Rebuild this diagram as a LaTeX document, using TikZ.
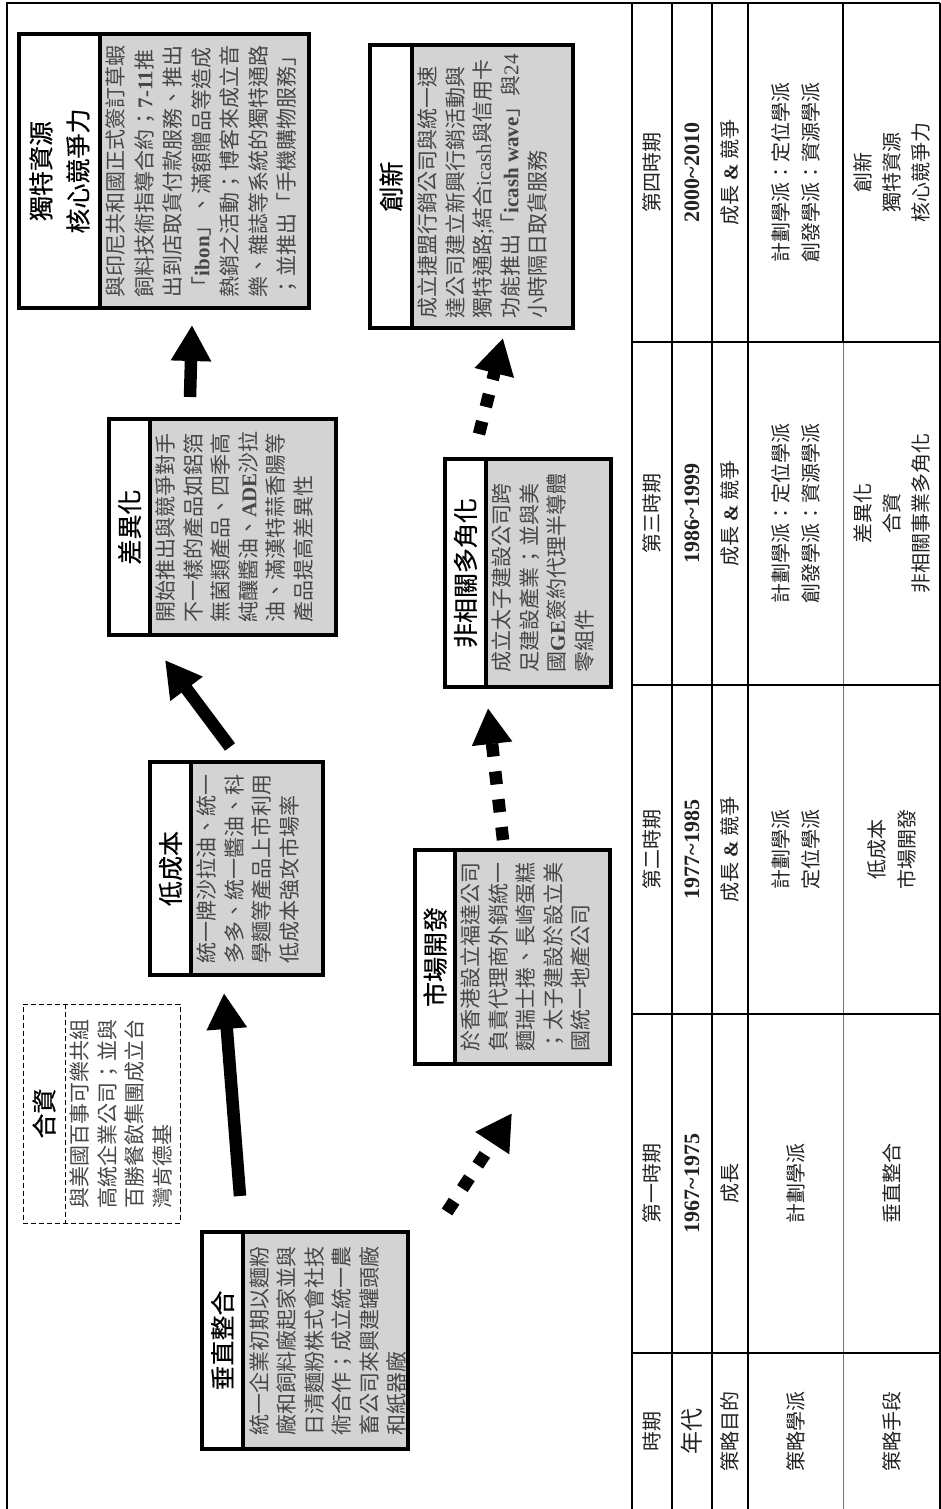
\documentclass[tikz,border=0pt]{standalone}
\usepackage{fontspec}
\setmainfont{Liberation Serif}
\newfontfamily\cjk{Noto Sans CJK TC}
\newfontfamily\cjkhd[FakeBold=0.4]{Noto Sans CJK TC}
\newfontfamily\lat{Liberation Serif}
\usetikzlibrary{arrows.meta,fit}
\definecolor{boxgray}{RGB}{211,211,211}
\definecolor{bodytxt}{RGB}{70,70,70}
\definecolor{tabtxt}{RGB}{35,35,35}
\newcommand{\LB}[1]{{\lat\bfseries #1}}
\newcommand{\LR}[1]{{\lat #1}}
\begin{document}
\begin{tikzpicture}[x=1pt,y=-1pt,
  frame/.style={line width=2.5pt},
  thinline/.style={line width=1pt, draw=black!55},
  boxbody/.style={draw, line width=4pt, fill=boxgray, inner sep=0pt},
  boxhead/.style={draw, line width=4pt, fill=white, inner sep=0pt},
  dashbody/.style={draw, line width=1pt, dash pattern=on 5pt off 3pt, inner sep=0pt},
  htext/.style={rotate=90, font=\cjkhd\fontsize{25}{37}\selectfont, align=center, inner sep=0pt},
  btext/.style={rotate=90, font=\cjk\fontsize{21}{27.5}\selectfont, align=left, inner sep=0pt, text=bodytxt, anchor=north},
  ttext/.style={rotate=90, font=\cjk\fontsize{20}{30}\selectfont, align=center, inner sep=0pt, text=tabtxt},
  ytext/.style={rotate=90, font=\lat\bfseries\fontsize{22}{26}\selectfont, inner sep=0pt, text=tabtxt},
  solidarrow/.style={line width=12.5pt, -{Triangle[length=36pt,width=38pt]}},
  dotarrow/.style={line width=12.5pt, dash pattern=on 13pt off 15pt, -{Triangle[length=36pt,width=38pt]}},
]
\useasboundingbox (0,0) rectangle (941,1509);
\fill[white] (0,0) rectangle (941,1509);

% outer frame
\draw[frame] (7,1509) -- (7,3) -- (940,3);

% table lines
\foreach \xx in {632,672,712,748,940}{\draw[frame] (\xx,3) -- (\xx,1509);}
\draw[frame] (843,3) -- (843,342);
\draw[thinline] (843,342) -- (843,1509);
\foreach \yy in {342,685,1014,1353}{\draw[frame] (632,\yy) -- (940,\yy);}

% table texts: header column
\node[ttext] (h1) at (652,1431) {時期};
\node[ttext, font=\cjk\fontsize{23}{28}\selectfont] (h2) at (692,1431) {年代};
\node[ttext] (h3) at (730,1431) {策略目的};
\node[ttext] (h4) at (795.5,1431) {策略學派};
\node[ttext] (h5) at (891.5,1431) {策略手段};
% period 1
\node[ttext] (p1a) at (652,1183.5) {第一時期};
\node[ytext] (p1b) at (692,1183.5) {1967\textasciitilde1975};
\node[ttext] (p1c) at (730,1183.5) {成長};
\node[ttext] (p1d) at (795.5,1183.5) {計劃學派};
\node[ttext] (p1e) at (891.5,1183.5) {垂直整合};
% period 2
\node[ttext] (p2a) at (652,849.5) {第二時期};
\node[ytext] (p2b) at (692,849.5) {1977\textasciitilde1985};
\node[ttext] (p2c) at (730,849.5) {成長 \LB{\&} 競爭};
\node[ttext] (p2d) at (795.5,849.5) {計劃學派\\定位學派};
\node[ttext] (p2e) at (891.5,849.5) {低成本\\市場開發};
% period 3
\node[ttext] (p3a) at (652,513.5) {第三時期};
\node[ytext] (p3b) at (692,513.5) {1986\textasciitilde1999};
\node[ttext] (p3c) at (730,513.5) {成長 \LB{\&} 競爭};
\node[ttext] (p3d) at (795.5,513.5) {計劃學派：定位學派\\創發學派：資源學派};
\node[ttext, font=\cjk\fontsize{20}{29}\selectfont] (p3e) at (891.5,513.5) {差異化\\合資\\非相關事業多角化};
% period 4
\node[ttext] (p4a) at (652,172.5) {第四時期};
\node[ytext] (p4b) at (692,172.5) {2000\textasciitilde2010};
\node[ttext] (p4c) at (730,172.5) {成長 \LB{\&} 競爭};
\node[ttext] (p4d) at (795.5,172.5) {計劃學派：定位學派\\創發學派：資源學派};
\node[ttext, font=\cjk\fontsize{20}{29}\selectfont] (p4e) at (891.5,172.5) {創新\\獨特資源\\核心競爭力};

% ---- boxes ----
% 垂直整合
\node[boxbody, fit={(202,1232)(408,1449)}] (vi) {};
\node[boxhead, fit={(202,1232)(243,1449)}] (vih) {};
\node[htext] (vit) at (vih.center) {垂直整合};
\node[btext] (vib) at (249,1340.5) {統一企業初期以麵粉\\廠和飼料廠起家並與\\日清麵粉株式會社技\\術合作；成立統一農\\畜公司來興建罐頭廠\\和紙器廠};

% 合資 (dashed)
\node[dashbody, fit={(23,1004)(180,1223)}] (jv) {};
\draw[line width=1pt, dash pattern=on 5pt off 3pt] (65,1004) -- (65,1223);
\coordinate (jvh) at (44,1113.5);
\node[htext] (jvt) at (jvh) {合資};
\node[btext] (jvb) at (70,1113.5) {與美國百事可樂共組\\高統企業公司；並與\\百勝餐飲集團成立台\\灣肯德基};

% 低成本
\node[boxbody, fit={(150,762)(323,975)}] (lc) {};
\node[boxhead, fit={(150,762)(191,975)}] (lch) {};
\node[htext] (lct) at (lch.center) {低成本};
\node[btext] (lcb) at (197,868.5) {統一牌沙拉油、統一\\多多、統一醬油、科\\學麵等產品上市利用\\低成本強攻市場率};

% 市場開發
\node[boxbody, fit={(415,850)(610,1064)}] (md) {};
\node[boxhead, fit={(415,850)(455,1064)}] (mdh) {};
\node[htext] (mdt) at (mdh.center) {市場開發};
\node[btext] (mdb) at (461,957) {於香港設立福達公司\\負責代理商外銷統一\\麵瑞士捲、長崎蛋糕\\；太子建設於設立美\\國統一地產公司};

% 差異化
\node[boxbody, fit={(109,419)(336,635)}] (df) {};
\node[boxhead, fit={(109,419)(150,635)}] (dfh) {};
\node[htext] (dft) at (dfh.center) {差異化};
\node[btext] (dfb) at (156,527) {開始推出與競爭對手\\不一樣的產品如鋁箔\\無菌類產品、四季高\\純釀醬油、\LB{ADE}沙拉\\油、滿漢特蒜香腸等\\產品提高差異性};

% 非相關多角化
\node[boxbody, fit={(445,459)(611,687)}] (ud) {};
\node[boxhead, fit={(445,459)(486,687)}] (udh) {};
\node[htext] (udt) at (udh.center) {非相關多角化};
\node[btext] (udb) at (492,573) {成立太子建設公司跨\\足建設產業；並與美\\國\LB{GE}簽約代理半導體\\零組件};

% 獨特資源 核心競爭力
\node[boxbody, fit={(19,34)(309,308)}] (ur) {};
\node[boxhead, fit={(19,34)(100,308)}] (urh) {};
\node[htext] (urt) at (urh.center) {獨特資源\\核心競爭力};
\node[btext, font=\cjk\fontsize{21}{28.5}\selectfont] (urb) at (106,171) {與印尼共和國正式簽訂草蝦\\飼料技術指導合約；\LB{7-11}推\\出到店取貨付款服務、推出\\「\LB{ibon}」、滿額贈品等造成\\熱銷之活動；博客來成立音\\樂、雜誌等系統的獨特通路\\；並推出「手機購物服務」};

% 創新
\node[boxbody, fit={(370,45)(573,328)}] (in) {};
\node[boxhead, fit={(370,45)(412,328)}] (inh) {};
\node[htext] (int) at (inh.center) {創新};
\node[btext] (inb) at (418,186.5) {成立捷盟行銷公司與統一速\\達公司建立新興行銷活動與\\獨特通路\LR{;}結合\LR{icash}與信用卡\\功能推出「\LB{icash wave}」與\LR{24}\\小時隔日取貨服務};

% ---- arrows ----
\coordinate (a1s) at (240,1196);
\coordinate (a1e) at (224,993);
\coordinate (a2s) at (230,747);
\coordinate (a2e) at (165,660);
\coordinate (a3s) at (190,397);
\coordinate (a3e) at (192,325);
\coordinate (d1s) at (447,1212);
\coordinate (d1e) at (512,1113);
\coordinate (d2s) at (503,840);
\coordinate (d2e) at (488,708);
\coordinate (d3s) at (479,434);
\coordinate (d3e) at (503,338);
\draw[solidarrow] (a1s) -- (a1e);
\draw[solidarrow] (a2s) -- (a2e);
\draw[solidarrow] (a3s) -- (a3e);
\draw[dotarrow] (d1s) -- (d1e);
\draw[dotarrow] (d2s) -- (d2e);
\draw[dotarrow] (d3s) -- (d3e);
\end{tikzpicture}
\end{document}
